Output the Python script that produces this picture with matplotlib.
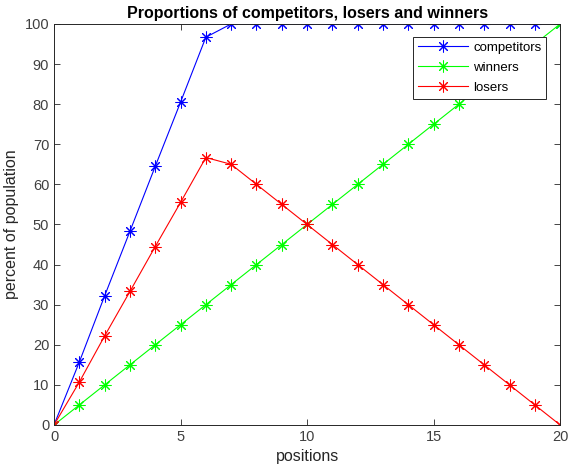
import matplotlib
matplotlib.use("Agg")
import matplotlib.pyplot as plt

plt.rcParams['font.family'] = ['Liberation Sans', 'DejaVu Sans']

positions = list(range(21))
competitors = [0, 15.7, 32.2, 48.3, 64.5, 80.5, 96.7] + [100] * 14
winners = [0, 5, 10, 15, 20, 25, 30, 35, 40, 45, 50, 55, 60, 65, 70, 75, 80, 85, 90, 95, 100]
losers = [0, 10.7, 22.2, 33.3, 44.5, 55.5, 66.7, 65, 60, 55, 50, 45, 40, 35, 30, 25, 20, 15, 10, 5, 0]

fig = plt.figure(figsize=(5.71, 4.72), dpi=100)
ax = fig.add_axes([0.0946, 0.0996, 0.8864, 0.8496])

# matlab style '*' marker: 8-armed asterisk
kw = dict(marker=(8, 2, 0), markersize=8.5, linewidth=0.8, markeredgewidth=0.75)
ax.plot(positions, competitors, color='#0000ff', label='competitors', **kw)
ax.plot(positions, winners, color='#00ff00', label='winners', **kw)
ax.plot(positions, losers, color='#ff0000', label='losers', **kw)

ax.set_xlim(0, 20)
ax.set_ylim(0, 100)
ax.set_xticks([0, 5, 10, 15, 20])
ax.set_yticks(range(0, 101, 10))
ax.tick_params(direction='in', top=True, right=True, labelsize=10.5,
               labelcolor='#404040', color='#262626', width=0.6, length=4)
for s in ax.spines.values():
    s.set_color('#262626')
    s.set_linewidth(0.7)

ax.set_xlabel('positions', fontsize=11.5, color='#262626')
ax.set_ylabel('percent of population', fontsize=11.5, color='#262626')
ax.set_title('Proportions of competitors, losers and winners', fontsize=11.5,
             fontweight='bold', pad=4)

leg = ax.legend(loc='upper right', bbox_to_anchor=(0.972, 0.968), fontsize=9.5,
                fancybox=False, framealpha=1, edgecolor='#262626',
                borderpad=0.35, labelspacing=0.6, handlelength=3.8,
                handletextpad=0.4, borderaxespad=0)
leg.get_frame().set_linewidth(0.7)

fig.savefig('out.png', dpi=100)
